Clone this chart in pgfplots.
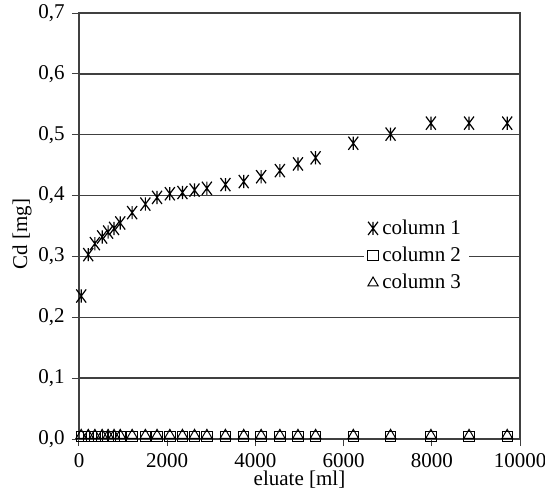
\documentclass[border=0pt]{standalone}
\usepackage{fontspec}
\setmainfont{Liberation Serif}
\usepackage{pgfplots}
\pgfplotsset{compat=1.18}

% asterisk as in the original: a vertical stroke with a steep X through it
\pgfdeclareplotmark{star6}{%
  \pgfpathmoveto{\pgfqpoint{0pt}{\pgfplotmarksize}}%
  \pgfpathlineto{\pgfqpoint{0pt}{-\pgfplotmarksize}}%
  \pgfpathmoveto{\pgfqpoint{-0.75\pgfplotmarksize}{\pgfplotmarksize}}%
  \pgfpathlineto{\pgfqpoint{0.75\pgfplotmarksize}{-\pgfplotmarksize}}%
  \pgfpathmoveto{\pgfqpoint{0.75\pgfplotmarksize}{\pgfplotmarksize}}%
  \pgfpathlineto{\pgfqpoint{-0.75\pgfplotmarksize}{-\pgfplotmarksize}}%
  \pgfusepathqstroke}

\begin{document}
\begin{tikzpicture}
\fontsize{10.5pt}{12pt}\selectfont
\begin{axis}[
  name=ax,
  scale only axis,
  width=220.5pt, height=213pt,
  xmin=0, xmax=10000, ymin=0, ymax=0.7,
  clip=false,
  xtick={0,2000,...,10000},
  ytick={0,0.1,...,0.7},
  tick align=outside,
  major tick length=3.5pt,
  tick style={black!75, line width=0.5pt},
  xtick pos=bottom, ytick pos=left,
  axis line style={black!75, line width=0.6pt},
  ymajorgrids,
  major grid style={black!75, line width=0.7pt},
  /pgf/number format/assume math mode=true,
  x tick label style={/pgf/number format/1000 sep={}},
  y tick label style={/pgf/number format/.cd, fixed, fixed zerofill, precision=1, use comma},
  scaled x ticks=false,
  xlabel={eluate [ml]},
  ylabel={Cd [mg]},
  xlabel style={at={(axis description cs:0.5,-0.096)}, anchor=center},
  ylabel style={at={(axis description cs:-0.129,0.481)}, anchor=center},
  legend style={at={(0.645,0.535)}, anchor=north west, draw=none, fill=white,
    font=\fontsize{10.5pt}{12pt}\selectfont, row sep=0.8pt, inner xsep=2pt},
  legend cell align=left,
]
\addplot[only marks, mark=star6, mark size=3.3pt, black, line width=0.6pt] coordinates {
(50,0.235) (210,0.303) (360,0.321) (525,0.332) (660,0.340) (795,0.346)
(935,0.355) (1205,0.372) (1505,0.386) (1770,0.397) (2060,0.403) (2345,0.405)
(2620,0.409) (2900,0.412) (3320,0.418) (3735,0.423) (4130,0.431) (4555,0.441)
(4965,0.452) (5365,0.462) (6220,0.486) (7065,0.501) (7980,0.519) (8845,0.519)
(9710,0.519)};
\addplot[only marks, mark=square, mark size=2.6pt, black, line width=0.5pt] coordinates {
(50,0.004) (210,0.004) (360,0.004) (525,0.004) (660,0.004) (795,0.004)
(935,0.004) (1205,0.004) (1505,0.004) (1770,0.004) (2060,0.004) (2345,0.004)
(2620,0.004) (2900,0.004) (3320,0.004) (3735,0.004) (4130,0.004) (4555,0.004)
(4965,0.004) (5365,0.004) (6220,0.004) (7065,0.004) (7980,0.004) (8845,0.004)
(9710,0.004)};
\addplot[only marks, mark=triangle, mark size=3pt, black, line width=0.5pt] coordinates {
(50,0.006) (210,0.006) (360,0.006) (525,0.006) (660,0.006) (795,0.006)
(935,0.006) (1205,0.006) (1505,0.006) (1770,0.006) (2060,0.006) (2345,0.006)
(2620,0.006) (2900,0.006) (3320,0.006) (3735,0.006) (4130,0.006) (4555,0.006)
(4965,0.006) (5365,0.006) (6220,0.006) (7065,0.006) (7980,0.006) (8845,0.006)
(9710,0.006)};
\legend{column 1, column 2, column 3}
\end{axis}
\pgfresetboundingbox
\path (ax.south west) ++(-39.5pt,-26.5pt) rectangle ++(272.5pt,246pt);
\end{tikzpicture}
\end{document}
